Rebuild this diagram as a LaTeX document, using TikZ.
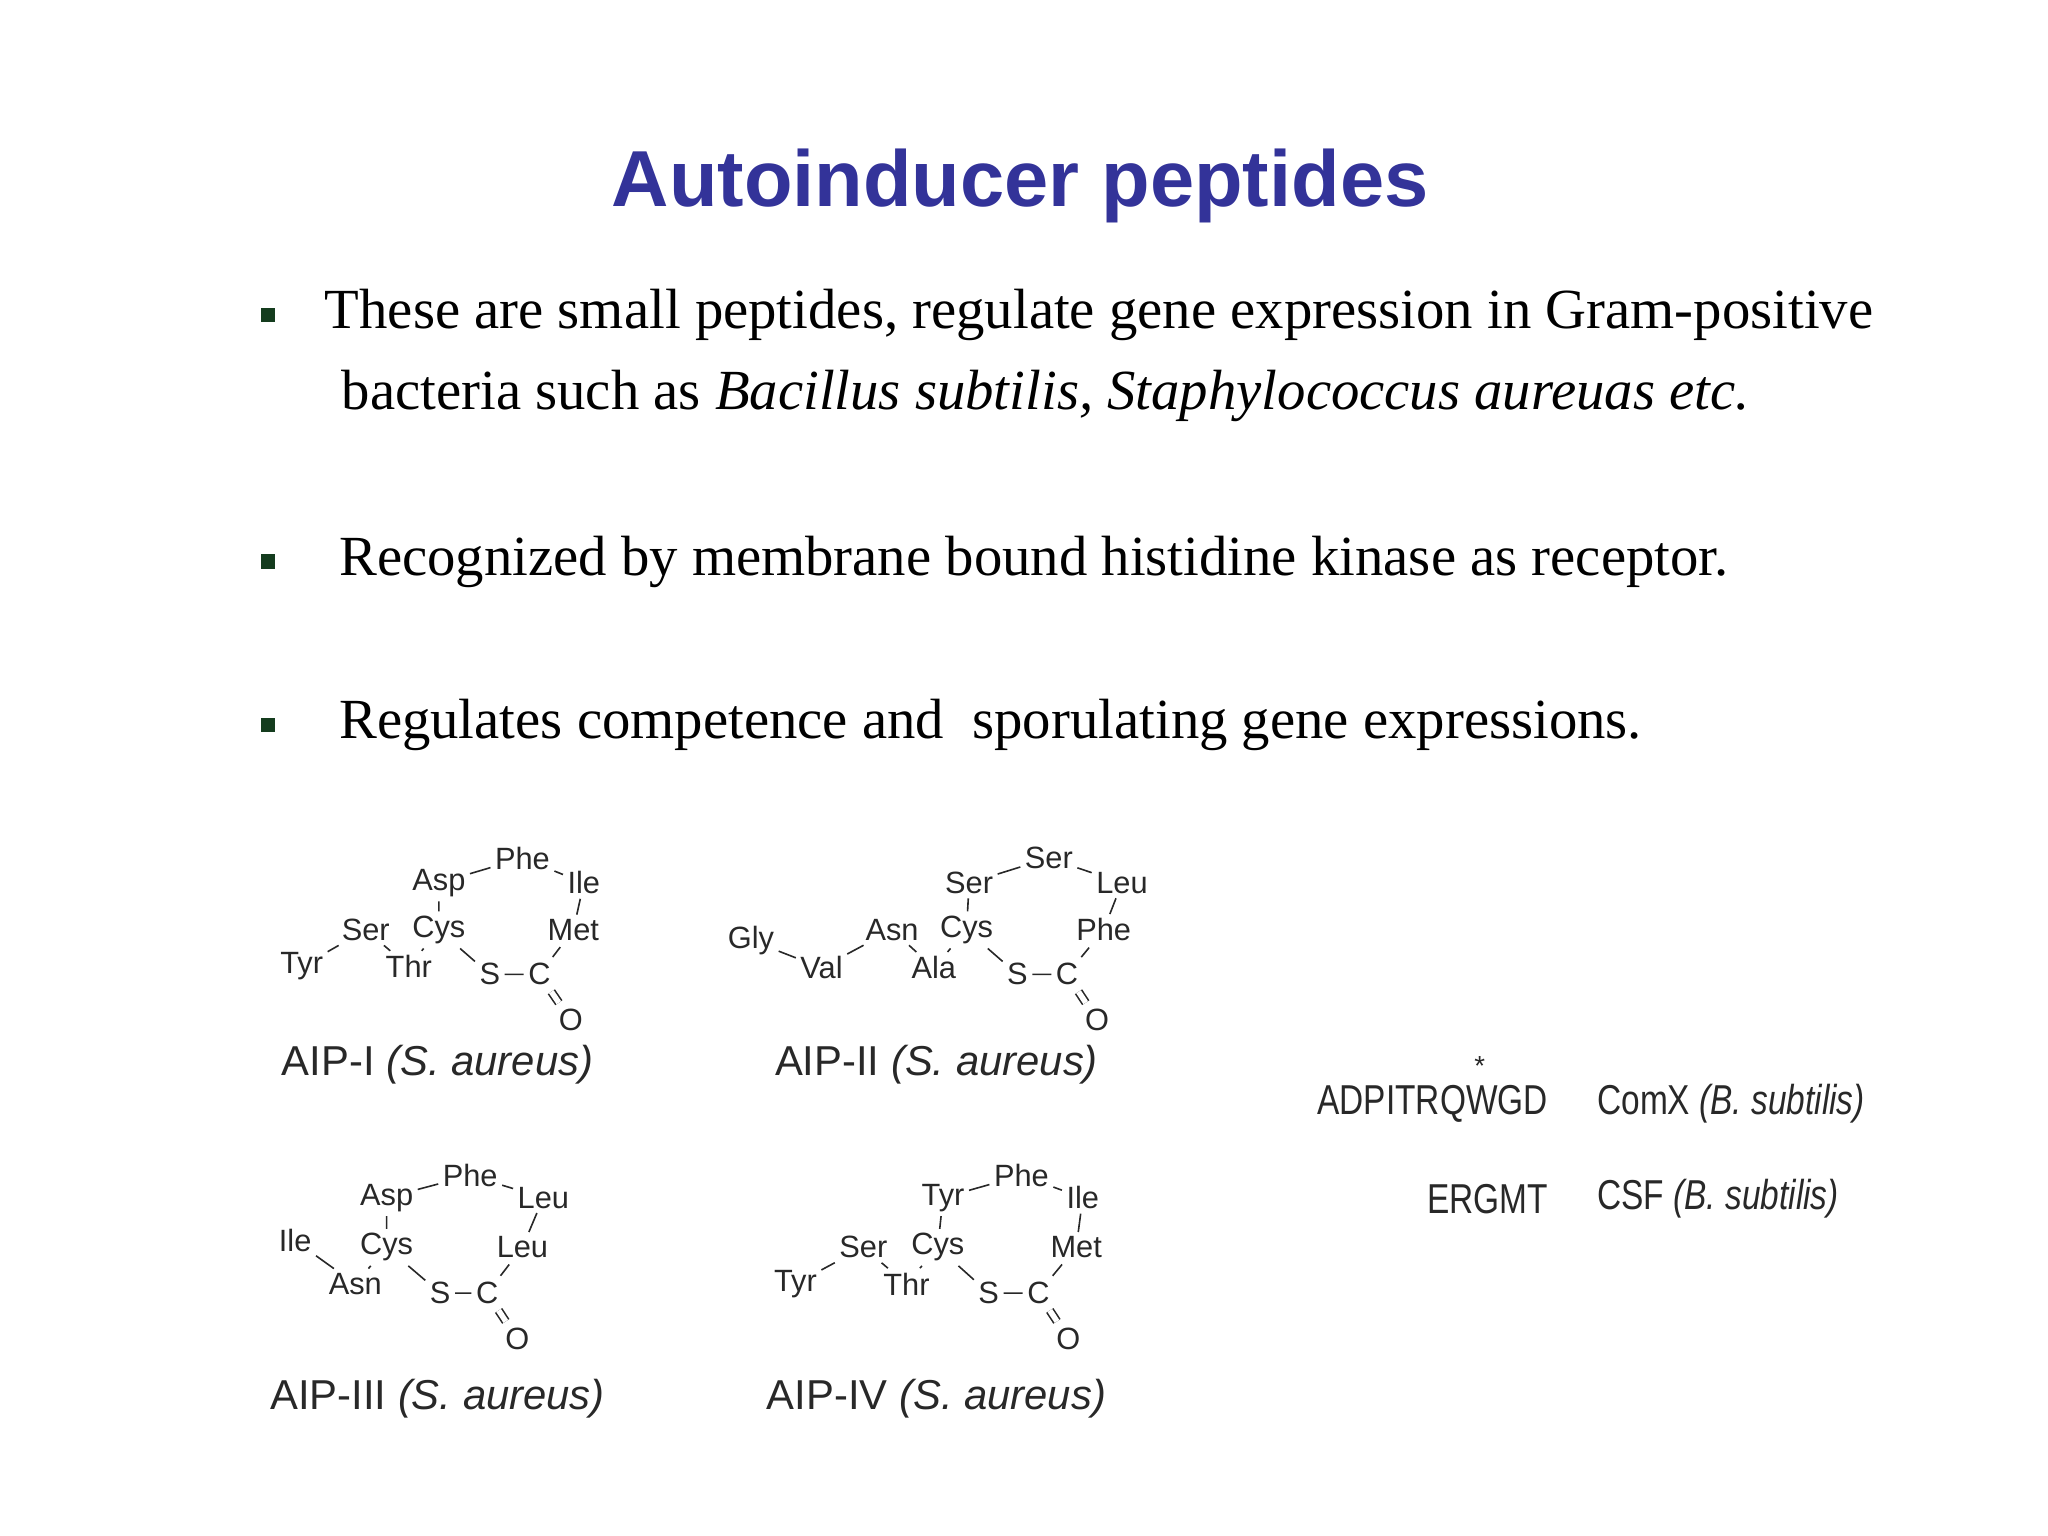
\documentclass[tikz,border=0pt]{standalone}
\usepackage{fontspec}
\setmainfont{Liberation Serif}
\newfontfamily\arial{Liberation Sans}
\definecolor{titleblue}{RGB}{51,51,153}
\definecolor{bulletgreen}{RGB}{20,60,30}
\definecolor{chemgray}{RGB}{40,40,40}
\begin{document}
\begin{tikzpicture}[x=0.01cm,y=-0.01cm,
  aa/.style={font=\arial\fontsize{6.7}{7}\selectfont,text=chemgray,inner sep=0.8pt},
  captxt/.style={font=\arial\fontsize{9.1}{10}\selectfont,text=chemgray},
  seqtxt/.style={font=\arial\fontsize{9.1}{11}\selectfont,text=chemgray,xscale=0.8},
  bd/.style={draw=chemgray,line width=0.35pt,shorten <=0.5pt,shorten >=0.5pt},
  body/.style={font=\fontsize{12.35}{14}\selectfont,anchor=west,inner sep=0},
  bul/.style={fill=bulletgreen,minimum size=0.11cm,inner sep=0}]
\useasboundingbox (0,0) rectangle (1568,1176);
\node[font=\arial\bfseries\fontsize{17.3}{20}\selectfont,text=titleblue] (title) at (781,142) {Autoinducer peptides};
\node[bul] (b1) at (205,241) {};
\node[body] (t1) at (248,241) {These are small peptides, regulate gene expression in Gram-positive};
\node[body] (t1b) at (261,303) {bacteria such as \textit{Bacillus subtilis, Staphylococcus aureuas etc.}};
\node[bul] (b2) at (205,430) {};
\node[body] (t2) at (259,430) {Recognized by membrane bound histidine kinase as receptor.};
\node[bul] (b3) at (205,555) {};
\node[body] (t3) at (259,555) {Regulates competence and\ \ sporulating gene expressions.};
% AIP-I
\node[aa] (p1) at (400,657) {Phe};
\node[aa] (d1) at (336,676) {Asp};
\node[aa] (i1) at (447,676) {Ile};
\node[aa] (s1) at (280,712) {Ser};
\node[aa] (c1) at (336,712) {Cys};
\node[aa] (m1) at (439,712) {Met};
\node[aa] (y1) at (231,740) {Tyr};
\node[aa] (h1) at (313,740) {Thr};
\node[aa] (x1) at (375,746) {S};
\node[aa] (k1) at (413,746) {C};
\node[aa] (o1) at (437,781) {O};
\draw[bd] (y1)--(s1) (s1)--(h1) (h1)--(c1) (d1)--(p1) (p1)--(i1) (d1)--(c1) (i1)--(m1) (c1)--(x1) (x1)--(k1) (k1)--(m1);
\draw[bd,double,double distance=1.2pt] (k1)--(o1);
\node[captxt] (cap1) at (335,815) {AIP-I \textit{(S. aureus)}};
% AIP-II
\node[aa] (st2) at (803,657) {Ser};
\node[aa] (s2) at (742,676) {Ser};
\node[aa] (l2) at (859,676) {Leu};
\node[aa] (g2) at (575,720) {Gly};
\node[aa] (n2) at (683,712) {Asn};
\node[aa] (c2) at (740,712) {Cys};
\node[aa] (f2) at (845,712) {Phe};
\node[aa] (v2) at (629,741) {Val};
\node[aa] (a2) at (715,741) {Ala};
\node[aa] (x2) at (779,746) {S};
\node[aa] (k2) at (817,746) {C};
\node[aa] (o2) at (840,781) {O};
\draw[bd] (g2)--(v2) (v2)--(n2) (n2)--(a2) (a2)--(c2) (s2)--(st2) (st2)--(l2) (s2)--(c2) (l2)--(f2) (c2)--(x2) (x2)--(k2) (k2)--(f2);
\draw[bd,double,double distance=1.2pt] (k2)--(o2);
\node[captxt] (cap2) at (717,815) {AIP-II \textit{(S. aureus)}};
% AIP-III
\node[aa] (p3) at (360,900) {Phe};
\node[aa] (d3) at (296,917) {Asp};
\node[aa] (l3) at (416,917) {Leu};
\node[aa] (i3) at (226,950) {Ile};
\node[aa] (c3) at (296,955) {Cys};
\node[aa] (e3) at (400,955) {Leu};
\node[aa] (n3) at (272,983) {Asn};
\node[aa] (x3) at (337,990) {S};
\node[aa] (k3) at (373,990) {C};
\node[aa] (o3) at (396,1025) {O};
\draw[bd] (i3)--(n3) (n3)--(c3) (d3)--(p3) (p3)--(l3) (d3)--(c3) (l3)--(e3) (c3)--(x3) (x3)--(k3) (k3)--(e3);
\draw[bd,double,double distance=1.2pt] (k3)--(o3);
\node[captxt] (cap3) at (335,1071) {AIP-III \textit{(S. aureus)}};
% AIP-IV
\node[aa] (p4) at (782,900) {Phe};
\node[aa] (t4) at (722,917) {Tyr};
\node[aa] (i4) at (829,917) {Ile};
\node[aa] (s4) at (661,955) {Ser};
\node[aa] (c4) at (718,955) {Cys};
\node[aa] (m4) at (824,955) {Met};
\node[aa] (y4) at (609,983) {Tyr};
\node[aa] (h4) at (694,983) {Thr};
\node[aa] (x4) at (757,990) {S};
\node[aa] (k4) at (795,990) {C};
\node[aa] (o4) at (818,1025) {O};
\draw[bd] (y4)--(s4) (s4)--(h4) (h4)--(c4) (t4)--(p4) (p4)--(i4) (t4)--(c4) (i4)--(m4) (c4)--(x4) (x4)--(k4) (k4)--(m4);
\draw[bd,double,double distance=1.2pt] (k4)--(o4);
\node[captxt] (cap4) at (717,1071) {AIP-IV \textit{(S. aureus)}};
% right
\node[font=\arial\fontsize{6}{7}\selectfont,text=chemgray] (star) at (1133,816) {*};
\node[seqtxt,anchor=east] (comxs) at (1195,845) {ADPITRQWGD};
\node[seqtxt,anchor=west] (comx) at (1213,845) {ComX \textit{(B. subtilis)}};
\node[seqtxt,anchor=east] (csfs) at (1195,918) {ERGMT};
\node[seqtxt,anchor=west] (csf) at (1213,918) {CSF \textit{(B. subtilis)}};
\end{tikzpicture}
\end{document}
